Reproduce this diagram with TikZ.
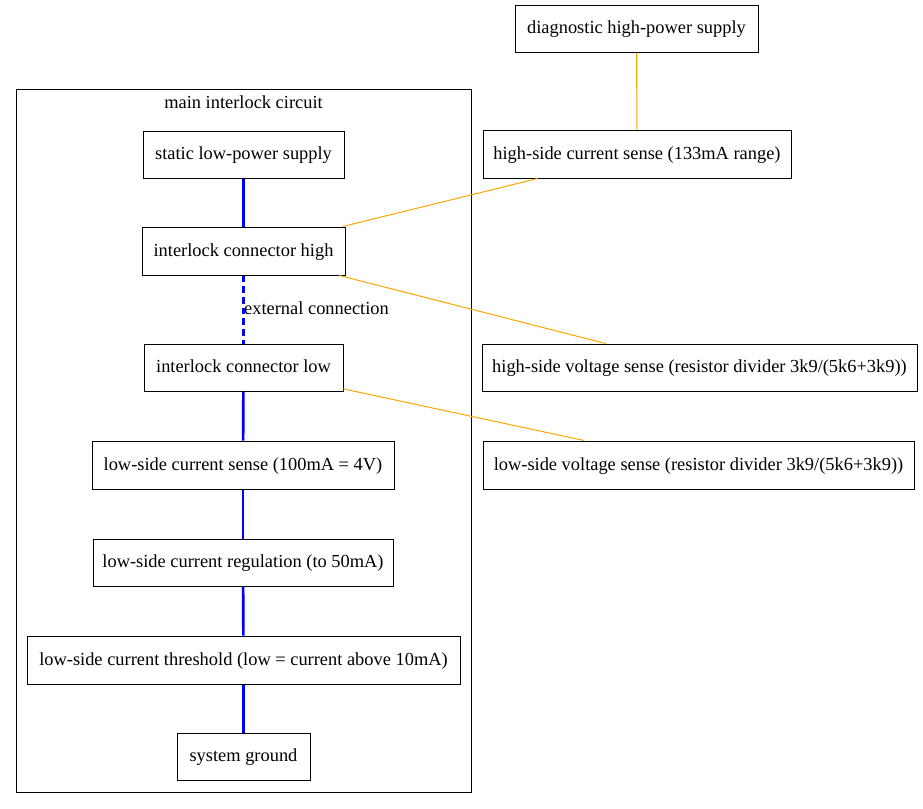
\documentclass[tikz,border=0pt]{standalone}
\usepackage{fontspec}
\setmainfont{Liberation Serif}
\begin{document}
\begin{tikzpicture}[x=0.75pt,y=-0.75pt,
  box/.style={draw=black, line width=0.75pt, inner sep=0pt, text height=11.2pt, text depth=3pt, font=\fontsize{13.8pt}{16pt}\selectfont},
  wd/.style={minimum width=#1*0.75pt},
  ht/.style={minimum height=#1*0.75pt},
  blueline/.style={draw=blue, line width=2pt},
  orangeline/.style={draw=orange, line width=0.75pt},
  lbl/.style={inner sep=0pt, text height=11.2pt, text depth=3pt, font=\fontsize{13.8pt}{16pt}\selectfont}]
\definecolor{orange}{HTML}{FFA500}
\useasboundingbox (0,0) rectangle (923,808);
% cluster
\node[draw=black, line width=0.75pt, inner sep=0pt, wd=455, ht=703] (cluster) at (243.5,440.5) {};
\node[lbl] (clabel) at (243.5,103) {main interlock circuit};
% nodes in cluster
\node[box, wd=201, ht=47] (sls) at (243.5,154.5) {static low-power supply};
\node[box, wd=203, ht=48] (ich) at (243.5,251) {interlock connector high};
\node[box, wd=199, ht=47] (icl) at (243.5,367.5) {interlock connector low};
\node[box, wd=302, ht=48] (lcs) at (243,465) {low-side current sense (100mA = 4V)};
\node[box, wd=300, ht=47] (lcr) at (243,562.5) {low-side current regulation (to 50mA)};
\node[box, wd=433, ht=48] (lct) at (243.5,660) {low-side current threshold (low = current above 10mA)};
\node[box, wd=133, ht=47] (gnd) at (243.5,756.5) {system ground};
% right nodes
\node[box, wd=243, ht=47] (dhp) at (636.5,28.5) {diagnostic high-power supply};
\node[box, wd=308, ht=48] (hcs) at (637,154) {high-side current sense (133mA range)};
\node[box, wd=435, ht=47] (hvs) at (699.5,367.5) {high-side voltage sense (resistor divider 3k9/(5k6+3k9))};
\node[box, wd=431, ht=48] (lvs) at (698.5,465) {low-side voltage sense (resistor divider 3k9/(5k6+3k9))};
% blue edges
\draw[blueline] (sls) -- (ich);
\draw[blueline, dash pattern=on 5pt off 3pt] (ich) -- (icl);
\node[lbl] (ext) at (316.5,309.5) {external connection};
\draw[blueline] (icl) -- (lcs);
\draw[blueline] (lcs) -- (lcr);
\draw[blueline] (lcr) -- (lct);
\draw[blueline] (lct) -- (gnd);
% orange edges
\draw[orangeline] (dhp) -- (hcs);
\draw[orangeline] (hcs) -- (ich);
\draw[orangeline] (ich) -- (hvs);
\draw[orangeline] (icl) -- (lvs);
\end{tikzpicture}
\end{document}
